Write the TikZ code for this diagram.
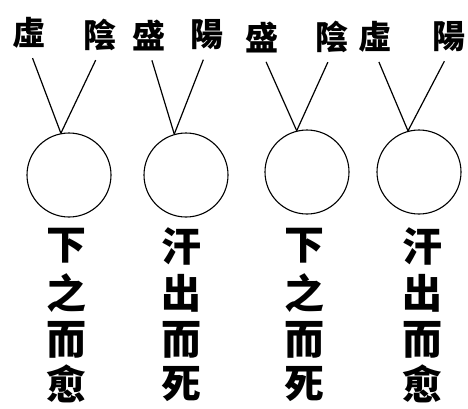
\documentclass[tikz,border=0pt]{standalone}
\usepackage{fontspec}
\newfontfamily\cjk{Noto Sans CJK TC}
\begin{document}
\begin{tikzpicture}[x=1pt,y=-1pt,
    top/.style={font=\cjk\bfseries\fontsize{33}{33}\selectfont, inner sep=0pt},
    word/.style={font=\cjk\bfseries\fontsize{40}{40}\selectfont, inner sep=0pt},
    ring/.style={draw, circle, line width=1.1pt, minimum size=84pt, inner sep=0pt},
    stem/.style={line width=1.2pt, shorten <=10pt}]
    \useasboundingbox (0,0) rectangle (468,408);
    % Top row of labels
    \node[top] (a1) at (29,33) {虛};
    \node[top] (a2) at (100,35) {陰};
    \node[top] (a3) at (149,35) {盛};
    \node[top] (a4) at (207,35) {陽};
    \node[top] (a5) at (262,37) {盛};
    \node[top] (a6) at (332,37) {陰};
    \node[top] (a7) at (375,37) {虛};
    \node[top] (a8) at (449,37) {陽};

    % The four circles
    \node[ring] (c1) at (69,175) {};
    \node[ring] (c2) at (186,175) {};
    \node[ring] (c3) at (307,172) {};
    \node[ring] (c4) at (419,172) {};

    % Each circle hangs from two labels
    \draw[stem] (a1.south) -- (c1.101);
    \draw[stem] (a2.south) -- (c1.101);
    \draw[stem] (a3.south) -- (c2.106);
    \draw[stem] (a4.south) -- (c2.106);
    \draw[stem] (a5.south) -- (c3.104);
    \draw[stem] (a6.south) -- (c3.104);
    \draw[stem] (a7.south) -- (c4.105);
    \draw[stem] (a8.south) -- (c4.105);

    % Columns of text under the circles
    \foreach \x/\n/\p/\q/\r/\s in {66/1/下/之/而/愈, 181/2/汗/出/而/死,
                                 304/3/下/之/而/死, 422/4/汗/出/而/愈} {
        \node[word] (b\n1) at (\x,246) {\p};
        \node[word] (b\n2) at (\x,293) {\q};
        \node[word] (b\n3) at (\x,340) {\r};
        \node[word] (b\n4) at (\x,384) {\s};
    }
\end{tikzpicture}
\end{document}
